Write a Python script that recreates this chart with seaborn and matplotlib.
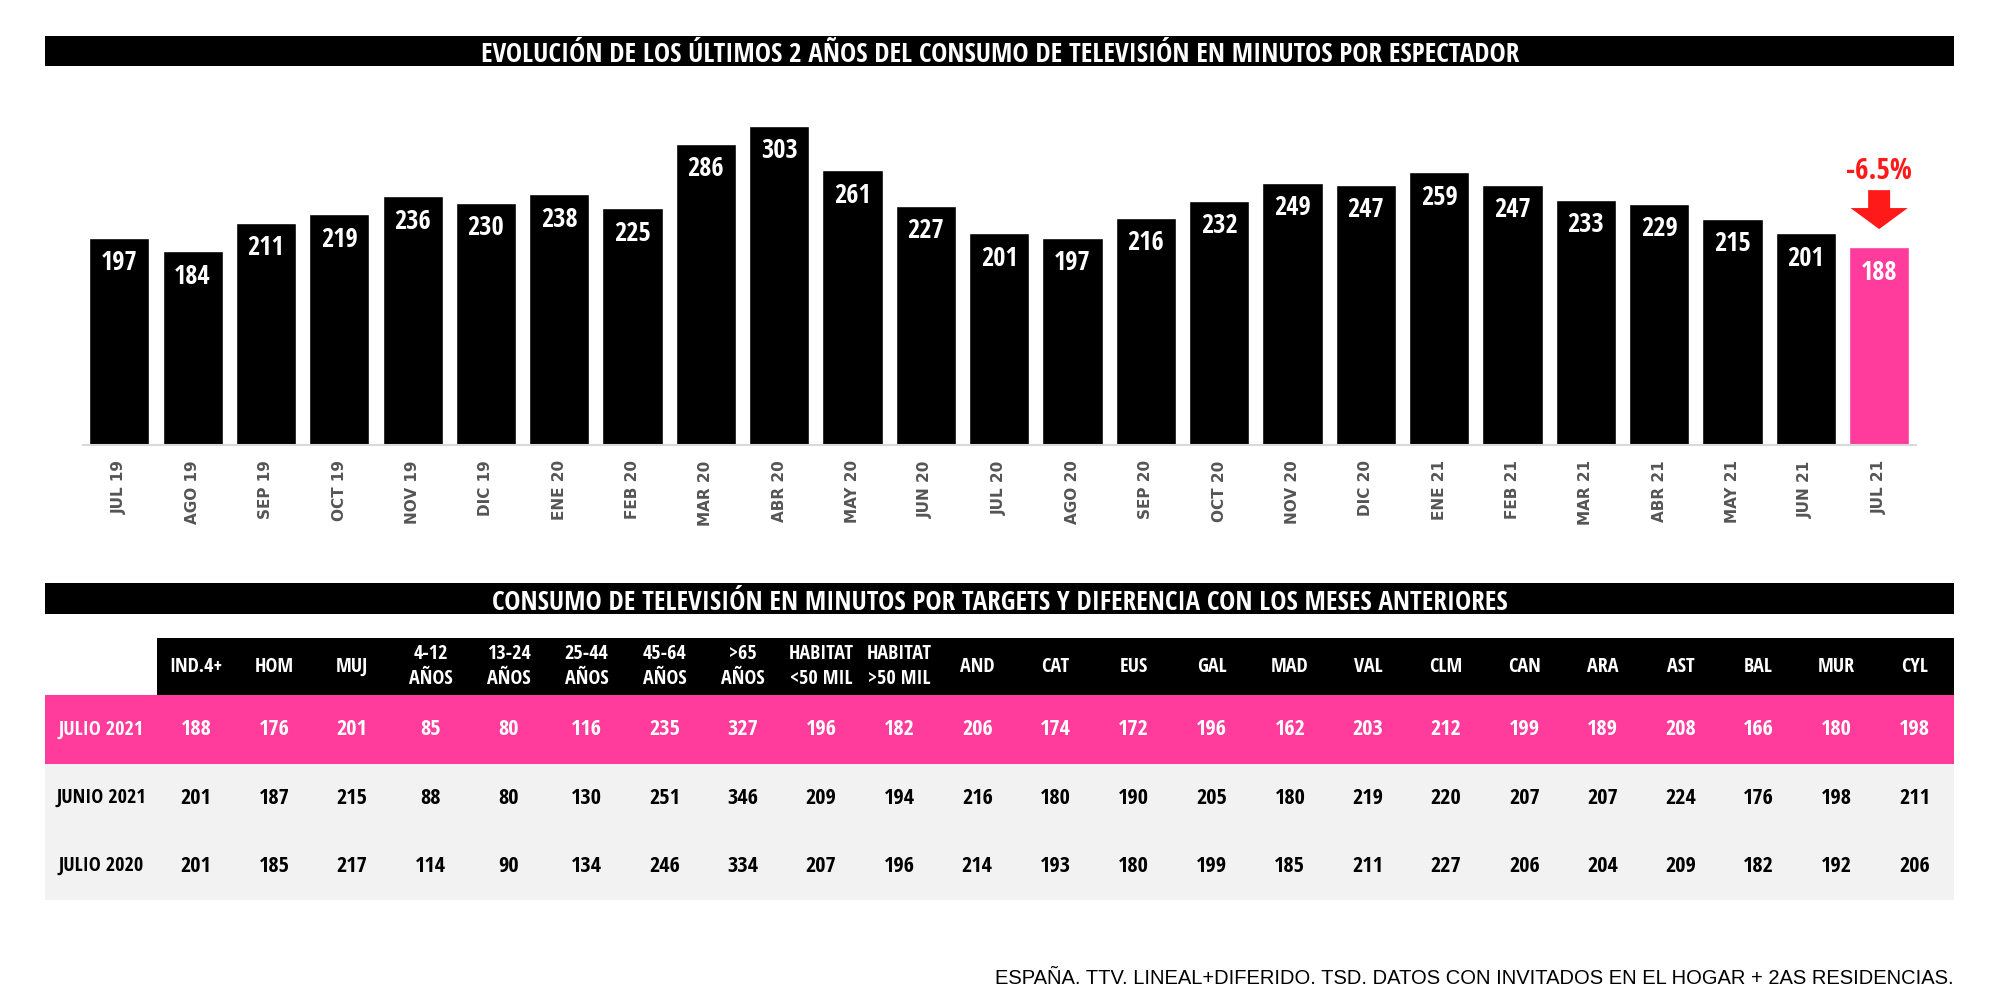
import numpy as np
import pandas as pd
import matplotlib
matplotlib.use("Agg")
import matplotlib.pyplot as plt
import seaborn as sns
from matplotlib import font_manager as fm
from matplotlib.patches import Rectangle


# ── Data ──────────────────────────────────────────────────────────────────────

months = ["JUL 19", "AGO 19", "SEP 19", "OCT 19", "NOV 19", "DIC 19", "ENE 20",
          "FEB 20", "MAR 20", "ABR 20", "MAY 20", "JUN 20", "JUL 20", "AGO 20",
          "SEP 20", "OCT 20", "NOV 20", "DIC 20", "ENE 21", "FEB 21", "MAR 21",
          "ABR 21", "MAY 21", "JUN 21", "JUL 21"]
minutes = [197, 184, 211, 219, 236, 230, 238, 225, 286, 303, 261, 227, 201,
           197, 216, 232, 249, 247, 259, 247, 233, 229, 215, 201, 188]

targets = ["IND.4+", "HOM", "MUJ", "4-12\nAÑOS", "13-24\nAÑOS", "25-44\nAÑOS",
           "45-64\nAÑOS", ">65\nAÑOS", "HABITAT\n<50 MIL", "HABITAT\n>50 MIL",
           "AND", "CAT", "EUS", "GAL", "MAD", "VAL", "CLM", "CAN", "ARA", "AST",
           "BAL", "MUR", "CYL"]
row_labels = ["JULIO 2021", "JUNIO 2021", "JULIO 2020"]
julio_2021 = [188, 176, 201, 85, 80, 116, 235, 327, 196, 182, 206, 174, 172,
              196, 162, 203, 212, 199, 189, 208, 166, 180, 198]
junio_2021 = [201, 187, 215, 88, 80, 130, 251, 346, 209, 194, 216, 180, 190,
              205, 180, 219, 220, 207, 207, 224, 176, 198, 211]
julio_2020 = [201, 185, 217, 114, 90, 134, 246, 334, 207, 196, 214, 193, 180,
              199, 185, 211, 227, 206, 204, 209, 182, 192, 206]

title_top = "EVOLUCIÓN DE LOS ÚLTIMOS 2 AÑOS DEL CONSUMO DE TELEVISIÓN EN MINUTOS POR ESPECTADOR"
title_bottom = "CONSUMO DE TELEVISIÓN EN MINUTOS POR TARGETS Y DIFERENCIA CON LOS MESES ANTERIORES"
footer = "ESPAÑA. TTV. LINEAL+DIFERIDO. TSD. DATOS CON INVITADOS EN EL HOGAR + 2AS RESIDENCIAS."

PINK = "#ff3b9b"
GREY_ROW = "#f2f2f2"

# ── Font: a narrow family that has a real bold face (Calibri-like) ────────────

def _weight(f):
    w = f.weight
    return w if isinstance(w, int) else fm.weight_dict.get(w, 400)


def _is_narrow(f):
    return ("Narrow" in f.name or "Condensed" in f.name
            or f.stretch in ("condensed", "semi-condensed"))


fonts = fm.fontManager.ttflist
bold_narrow = [f for f in fonts if _is_narrow(f) and _weight(f) >= 600
               and f.style == "normal"]
prefer = ["Liberation", "Open Sans", "Noto Sans", "Roboto", "DejaVu"]


def _rank(f):
    for k, p in enumerate(prefer):
        if f.name.startswith(p):
            return (k, abs(_weight(f) - 700))
    return (len(prefer), abs(_weight(f) - 700))


if bold_narrow:
    pick = sorted(bold_narrow, key=_rank)[0]
    FAMILY = pick.name
    STRETCH = pick.stretch if isinstance(pick.stretch, str) else "condensed"
else:
    FAMILY, STRETCH = "Liberation Sans", "normal"

sns.set_theme(style="white")
plt.rcParams["font.family"] = [FAMILY, "DejaVu Sans"]
plt.rcParams["font.stretch"] = STRETCH

fig = plt.figure(figsize=(20, 10), dpi=100)

# background canvas in pixel units for banners / table
bg = fig.add_axes([0, 0, 1, 1])
bg.set_xlim(0, 2000)
bg.set_ylim(1000, 0)
bg.axis("off")


def banner(y0, y1, text):
    bg.add_patch(Rectangle((45, y0), 1954 - 45, y1 - y0, color="black", lw=0))
    # baseline placement keeps the accents inside the black band
    bg.text(1000, y1 - 4, text, color="white", fontsize=19.5,
            fontweight="bold", ha="center", va="baseline")


banner(36, 66, title_top)
banner(583, 614, title_bottom)

# ── Bar chart ─────────────────────────────────────────────────────────────────

ax = fig.add_axes([0.0413, 0.555, 0.9166, 0.337])
ax.set_facecolor("none")
colors = ["black"] * (len(months) - 1) + [PINK]
sns.barplot(x=months, y=minutes, hue=months, palette=colors, legend=False,
            width=0.82, saturation=1, ax=ax)
ax.set_xlim(-0.5, len(months) - 0.5)
ax.set_ylim(0, 320)
ax.set_yticks([])
ax.set_xlabel("")
ax.set_ylabel("")
for side in ["top", "left", "right"]:
    ax.spines[side].set_visible(False)
ax.spines["bottom"].set_color("#d9d9d9")
ax.spines["bottom"].set_linewidth(1.5)
ax.tick_params(axis="x", length=0, pad=11)
ax.set_xticks(range(len(months)))
ax.set_xticklabels(months, rotation=90, fontsize=11, fontweight="bold",
                   color="#555555", family="DejaVu Sans", stretch="normal")

for i, v in enumerate(minutes):
    ax.annotate(str(v), (i, v), xytext=(0, -18), textcoords="offset points",
                ha="center", va="center", color="white", fontsize=19,
                fontweight="bold")

# change vs previous month on the last bar
last = len(minutes) - 1
pct = (minutes[-1] - minutes[-2]) / minutes[-2] * 100
ax.arrow(last, minutes[-1] + 54, 0, -37, width=0.3, head_width=0.78,
         head_length=20, length_includes_head=True, color="#ff1a1a", lw=0)
ax.text(last, minutes[-1] + 72, f"{pct:.1f}%", color="#ff1a1a", fontsize=21,
        fontweight="bold", ha="center", va="center")

# ── Table ─────────────────────────────────────────────────────────────────────

tab_left, tab_right, lab_left = 157, 1954, 45
col_w = (tab_right - tab_left) / len(targets)
head_y0, head_y1 = 638, 695
row_edges = [695, 764, 832, 900]

bg.add_patch(Rectangle((tab_left, head_y0), tab_right - tab_left,
                       head_y1 - head_y0, color="black", lw=0))
bg.add_patch(Rectangle((lab_left, row_edges[0]), tab_right - lab_left,
                       row_edges[1] - row_edges[0], color=PINK, lw=0))
bg.add_patch(Rectangle((lab_left, row_edges[1]), tab_right - lab_left,
                       row_edges[3] - row_edges[1], color=GREY_ROW, lw=0))

for j, t in enumerate(targets):
    bg.text(tab_left + (j + 0.5) * col_w, (head_y0 + head_y1) / 2, t,
            color="white", fontsize=14.5, fontweight="bold", ha="center",
            va="center", linespacing=1.35)

rows = [julio_2021, junio_2021, julio_2020]
for r, (label, vals) in enumerate(zip(row_labels, rows)):
    yc = (row_edges[r] + row_edges[r + 1]) / 2
    txt_color = "white" if r == 0 else "black"
    bg.text((lab_left + tab_left) / 2, yc, label, color=txt_color, fontsize=14.5,
            fontweight="bold", ha="center", va="center")
    for j, v in enumerate(vals):
        bg.text(tab_left + (j + 0.5) * col_w, yc, str(v), color=txt_color,
                fontsize=16, fontweight="bold", ha="center", va="center")

bg.text(1954, 978, footer, color="black", fontsize=14.5, ha="right", va="center",
        family=["Liberation Sans", "DejaVu Sans"], stretch="normal",
        fontweight="normal")

fig.savefig("out.png", dpi=100, facecolor="white")
